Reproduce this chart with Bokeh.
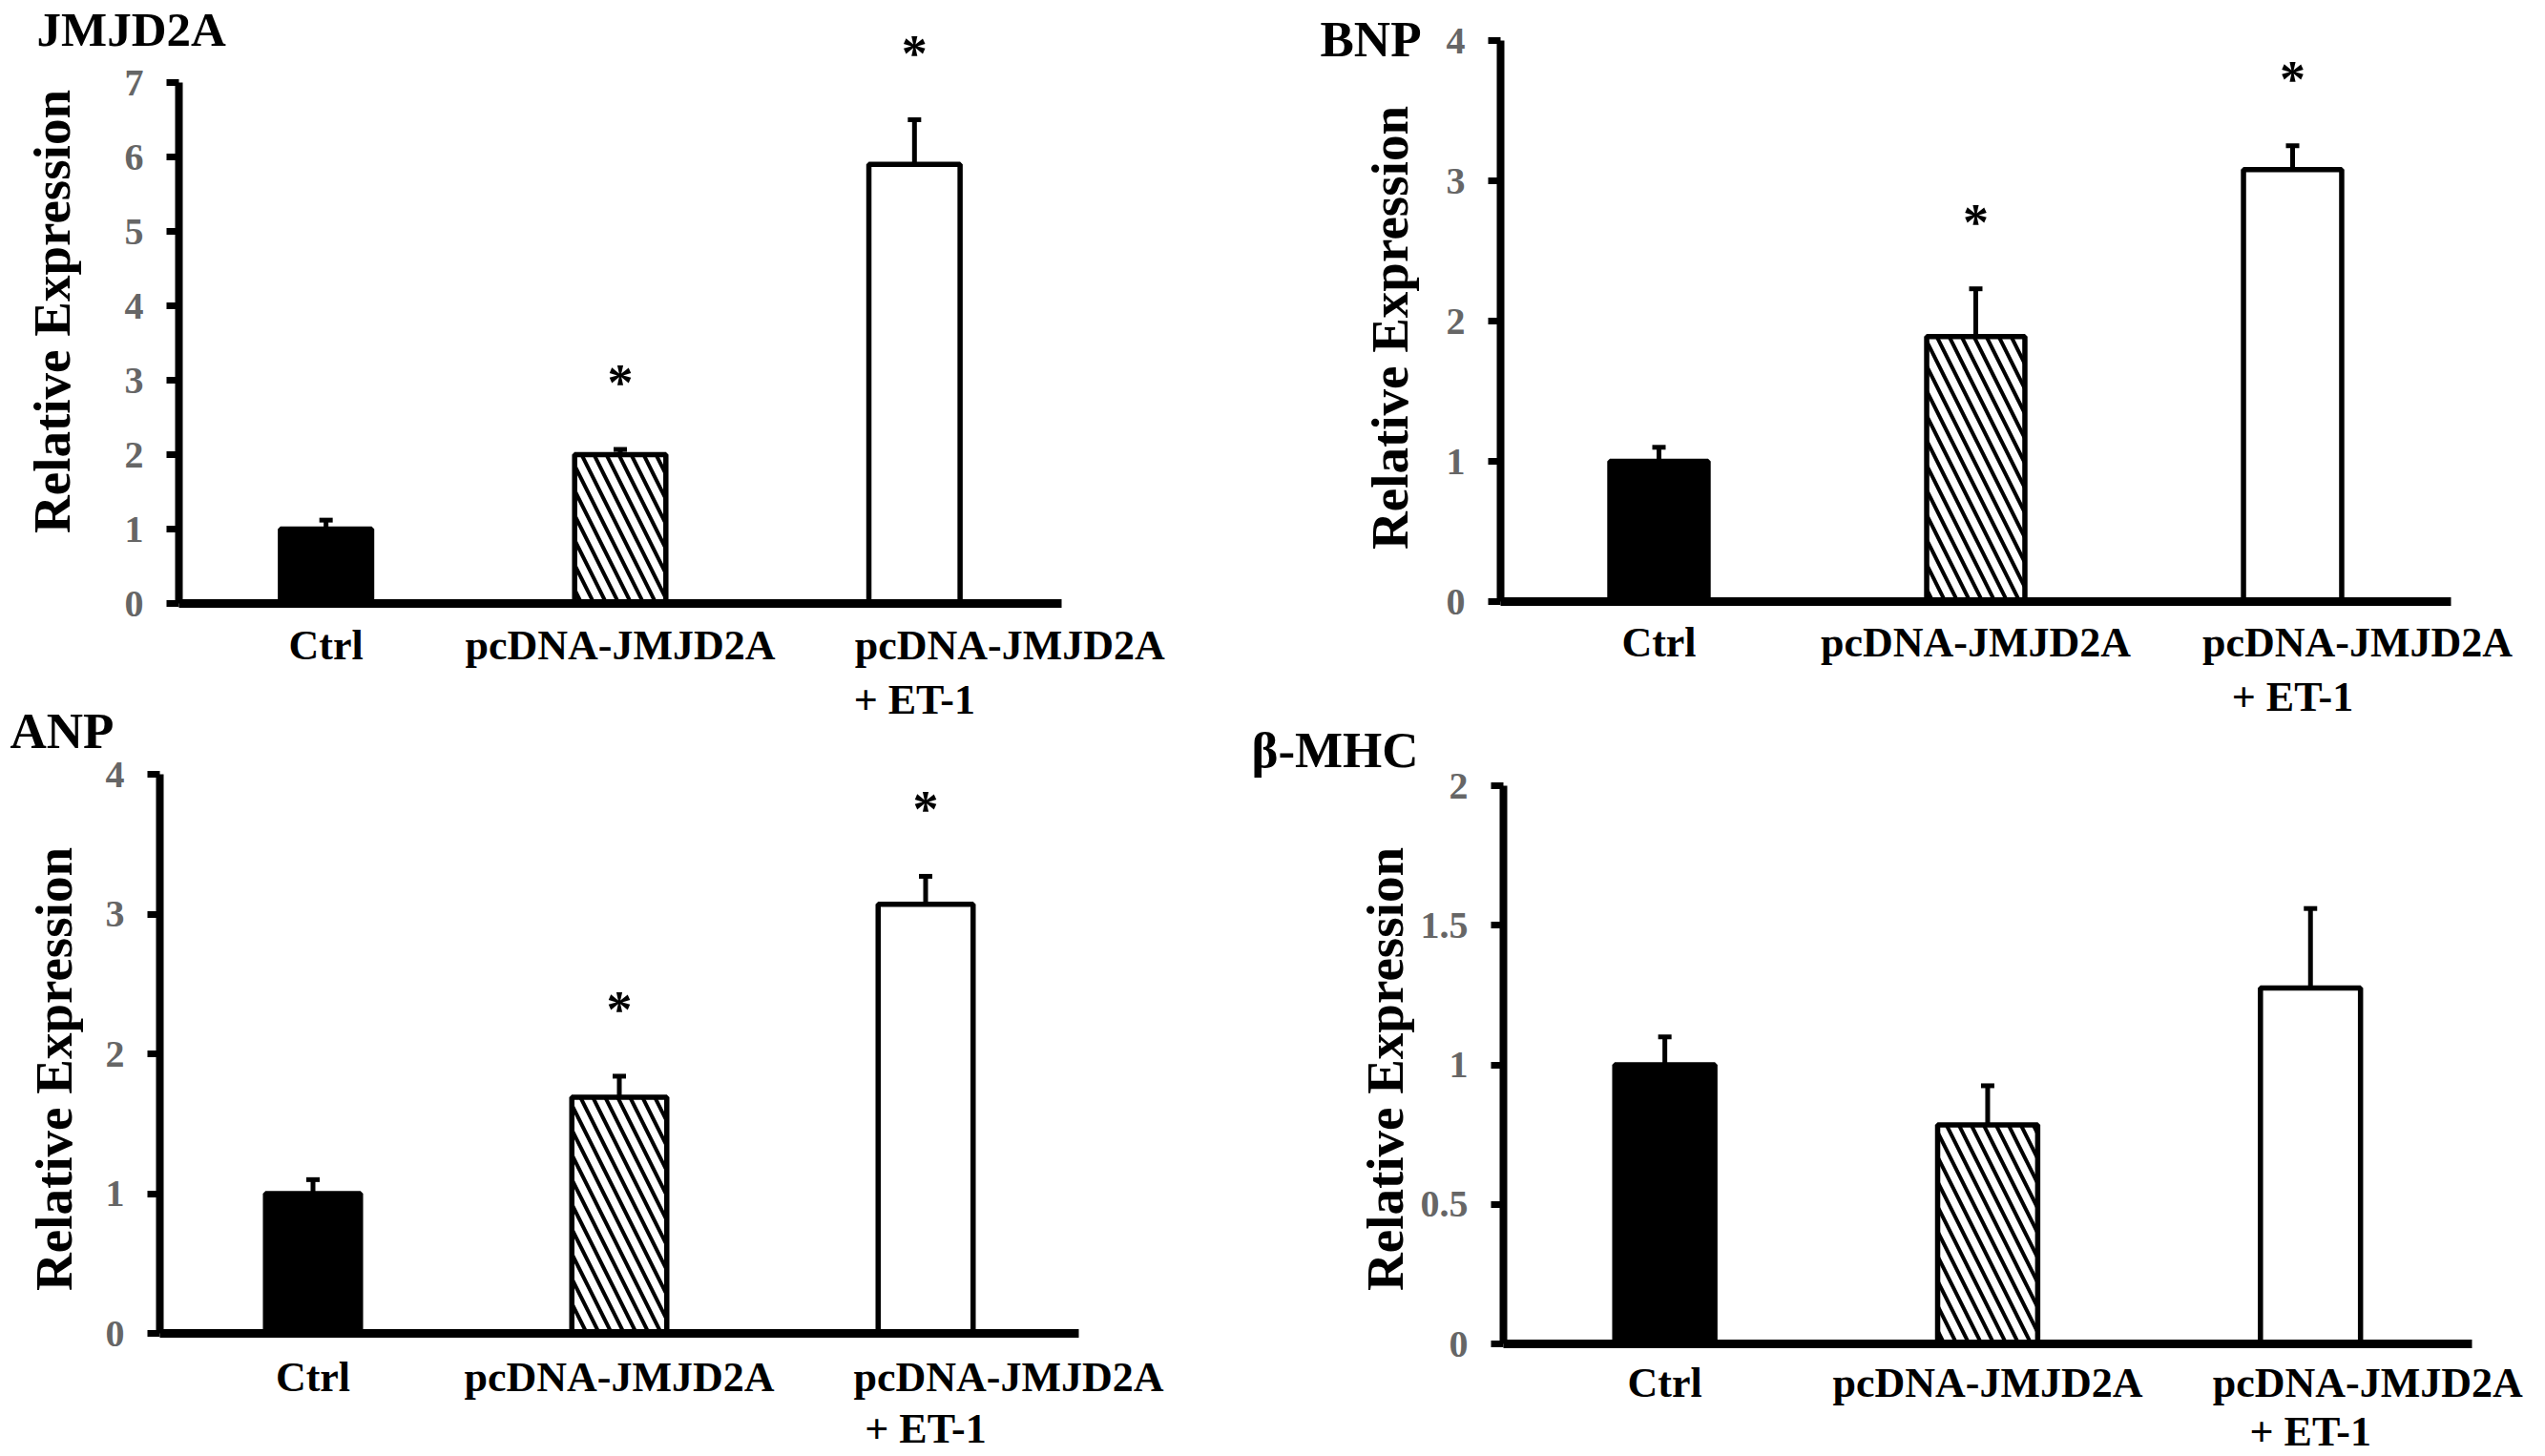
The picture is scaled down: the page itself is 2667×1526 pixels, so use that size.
import math
from bokeh.plotting import figure
from bokeh.models import (ColumnDataSource, Range1d, Whisker, TeeHead, LabelSet,
                          LinearAxis, FixedTicker, NumeralTickFormatter)
from bokeh.embed import file_html
from bokeh.resources import INLINE
from bokeh.core.properties import value, field

# ---------------- data ----------------
categories = ["Ctrl", "pcDNA-JMJD2A", "pcDNA-JMJD2A + ET-1"]
label_line1 = ["Ctrl", "pcDNA-JMJD2A", "pcDNA-JMJD2A"]
label_line2 = ["", "", "+ ET-1"]
y_title = "Relative Expression"

jmjd2a_mean = [1.0, 2.0, 5.9]
jmjd2a_err = [0.12, 0.07, 0.6]
jmjd2a_sig = ["", "*", "*"]
jmjd2a_ticks = [0, 1, 2, 3, 4, 5, 6, 7]

bnp_mean = [1.0, 1.89, 3.08]
bnp_err = [0.1, 0.34, 0.17]
bnp_sig = ["", "*", "*"]
bnp_ticks = [0, 1, 2, 3, 4]

anp_mean = [1.0, 1.69, 3.07]
anp_err = [0.1, 0.15, 0.2]
anp_sig = ["", "*", "*"]
anp_ticks = [0, 1, 2, 3, 4]

bmhc_mean = [1.0, 0.785, 1.275]
bmhc_err = [0.1, 0.14, 0.285]
bmhc_sig = ["", "", ""]
bmhc_ticks = [0, 0.5, 1, 1.5, 2]

# ---------------- styles / layout ----------------
FONT = "Liberation Serif"
bar_fill = ["black", "white", "white"]
bar_hatch = [" ", "left_diagonal_line", " "]
TICK_GRAY = "#666666"
W, H = 2666, 1525

# origin = screen position of (category start, y=0); scale = px per unit
panels = [
    dict(key="default", title="JMJD2A", mean=jmjd2a_mean, err=jmjd2a_err, sig=jmjd2a_sig,
         ticks=jmjd2a_ticks, origin=(187, 632), scale=(308.33, 78.0),
         title_at=(38, 47), title_size="51px", ylabel_at=(72, 326), shift=100,
         lines=(-58, -115)),
    dict(key="bnp", title="BNP", mean=bnp_mean, err=bnp_err, sig=bnp_sig,
         ticks=bnp_ticks, origin=(1572, 630), scale=(332.0, 147.0),
         title_at=(1383, 58), title_size="53px", ylabel_at=(1474, 343), shift=68,
         lines=(-57, -114)),
    dict(key="anp", title="ANP", mean=anp_mean, err=anp_err, sig=anp_sig,
         ticks=anp_ticks, origin=(167, 1397), scale=(321.0, 146.5),
         title_at=(10, 783), title_size="53px", ylabel_at=(74, 1120), shift=87,
         lines=(-60, -114)),
    dict(key="bmhc", title="β-MHC", mean=bmhc_mean, err=bmhc_err, sig=bmhc_sig,
         ticks=bmhc_ticks, origin=(1575, 1408), scale=(338.3, 292.5),
         title_at=(1311, 803), title_size="53px", ylabel_at=(1469, 1120), shift=60,
         lines=(-55, -106)),
]


def ranges_for(g):
    ox, oy = g["origin"]
    sx, sy = g["scale"]
    return (Range1d((0 - ox) / sx, (W - ox) / sx),
            Range1d((oy - H) / sy, (oy - 0) / sy))


xr0, yr0 = ranges_for(panels[0])
p = figure(width=W, height=H, x_range=xr0, y_range=yr0,
           x_axis_type=None, y_axis_type=None,
           min_border_left=0, min_border_right=0, min_border_top=0, min_border_bottom=0,
           toolbar_location=None, tools="", output_backend="svg")
p.outline_line_color = None
p.background_fill_color = "white"
p.border_fill_color = "white"

for g in panels:
    key = g["key"]
    if key == "default":
        xn = yn = "default"
    else:
        xn, yn = key + "_x", key + "_y"
        xr, yr = ranges_for(g)
        p.extra_x_ranges[xn] = xr
        p.extra_y_ranges[yn] = yr
    rn = dict(x_range_name=xn, y_range_name=yn)

    x_pos = [i + 0.5 for i in range(len(categories))]
    upper = [m + e for m, e in zip(g["mean"], g["err"])]
    src = ColumnDataSource(dict(x=x_pos, mean=g["mean"], upper=upper,
                                fill=bar_fill, hatch=bar_hatch, sig=g["sig"]))

    p.vbar(x="x", top="mean", bottom=0, width=0.31, source=src,
           fill_color="fill", line_color="black", line_width=5.5,
           hatch_pattern=field("hatch"), hatch_color="black",
           hatch_weight=4, hatch_scale=26, **rn)

    p.add_layout(Whisker(source=src, base="x", lower="mean", upper="upper",
                         dimension="height", line_width=5, line_color="black",
                         upper_head=TeeHead(size=14, line_width=5, line_color="black"),
                         lower_head=None, level="glyph", **rn))

    p.add_layout(LabelSet(source=src, x="x", y="upper", text="sig", y_offset=52,
                          text_align="center", text_baseline="alphabetic",
                          text_font=value(FONT), text_font_style="bold",
                          text_font_size=value("54px"), text_color="black", **rn))

    # category labels (two lines for the last group)
    l1, l2 = g["lines"]
    lx_, lt, xo, yo = [], [], [], []
    for i in range(len(categories)):
        lx_.append(x_pos[i]); lt.append(label_line1[i])
        xo.append(g["shift"] if label_line2[i] else 0); yo.append(l1)
        if label_line2[i]:
            lx_.append(x_pos[i]); lt.append(label_line2[i]); xo.append(0); yo.append(l2)
    lsrc = ColumnDataSource(dict(x=lx_, text=lt, xo=xo, yo=yo, y=[0] * len(lx_)))
    p.add_layout(LabelSet(source=lsrc, x="x", y="y", text="text", x_offset="xo", y_offset="yo",
                          text_align="center", text_baseline="alphabetic",
                          text_font=value(FONT), text_font_style="bold",
                          text_font_size=value("44px"), text_color="black", **rn))

    # panel title (screen units, measured from the canvas bottom-left)
    tX, tY = g["title_at"]
    tsrc = ColumnDataSource(dict(x=[tX], y=[H - tY], text=[g["title"]]))
    p.add_layout(LabelSet(source=tsrc, x="x", y="y", text="text",
                          x_units="screen", y_units="screen",
                          text_align="left", text_baseline="alphabetic",
                          text_font=value(FONT), text_font_style="bold",
                          text_font_size=value(g["title_size"]), text_color="black"))

    # y axis title
    yX, yY = g["ylabel_at"]
    ysrc = ColumnDataSource(dict(x=[yX], y=[H - yY], text=[y_title]))
    p.add_layout(LabelSet(source=ysrc, x="x", y="y", text="text", angle=math.pi / 2,
                          x_units="screen", y_units="screen",
                          text_align="center", text_baseline="alphabetic",
                          text_font=value(FONT), text_font_style="bold",
                          text_font_size=value("55px"), text_color="black"))

    ticks = g["ticks"]
    yax = LinearAxis(fixed_location=0, ticker=FixedTicker(ticks=ticks),
                     bounds=(ticks[0], ticks[-1]),
                     formatter=NumeralTickFormatter(format="0.[0]"), **rn)
    yax.axis_line_width = 8
    yax.axis_line_color = "black"
    yax.major_tick_line_width = 7
    yax.major_tick_line_color = "black"
    yax.major_tick_out = 13
    yax.major_tick_in = 0
    yax.minor_tick_line_color = None
    yax.major_label_standoff = 24
    yax.major_label_text_font = FONT
    yax.major_label_text_font_style = "bold"
    yax.major_label_text_font_size = "40px"
    yax.major_label_text_color = TICK_GRAY
    p.add_layout(yax, "left")

    xax = LinearAxis(fixed_location=0, ticker=FixedTicker(ticks=[]),
                     bounds=(0, len(categories)), **rn)
    xax.axis_line_width = 9
    xax.axis_line_color = "black"
    xax.major_tick_line_color = None
    xax.minor_tick_line_color = None
    xax.major_label_text_color = None
    p.add_layout(xax, "below")

open("out.html", "w").write(file_html(p, INLINE, "JMJD2A"))
